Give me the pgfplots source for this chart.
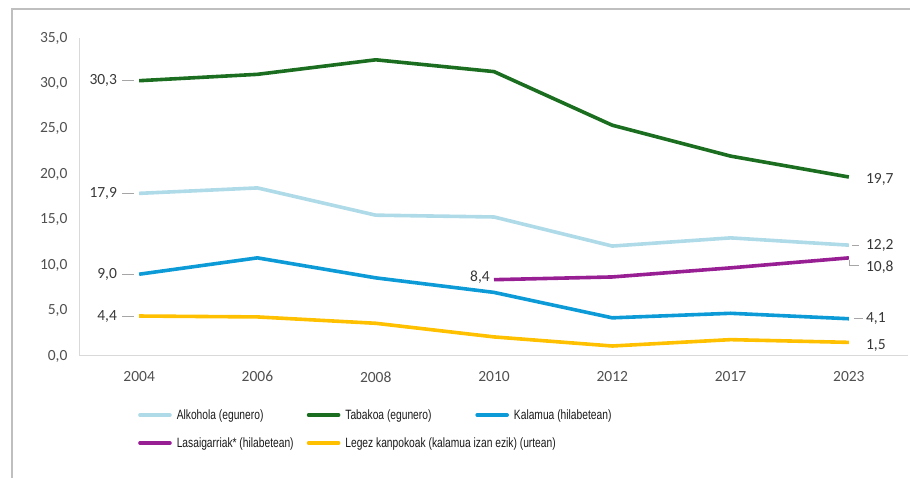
\documentclass[border=0pt]{standalone}
\usepackage{fontspec}
\setmainfont{Carlito}
\newfontfamily\legfont[FakeStretch=0.76]{Liberation Sans}
\usepackage{pgfplots}
\pgfplotsset{compat=1.18}
\definecolor{alk}{RGB}{175,218,232}
\definecolor{tab}{RGB}{27,110,32}
\definecolor{kal}{RGB}{13,155,215}
\definecolor{las}{RGB}{152,30,148}
\definecolor{leg}{RGB}{255,192,0}
\definecolor{tickgray}{RGB}{80,80,80}
\definecolor{lblgray}{RGB}{56,56,56}
\definecolor{legtext}{RGB}{25,25,25}
\begin{document}
\begin{tikzpicture}[x=1pt,y=1pt]
\path[use as bounding box] (0,0) rectangle (910,478);
\draw[black!25, line width=1.5pt] (12,0) -- (12,469) -- (910,469);
\begin{axis}[
  at={(80pt,122pt)}, anchor=south west, scale only axis,
  width=828pt, height=318pt,
  xmin=-0.5, xmax=6.5, ymin=0, ymax=35,
  axis x line*=bottom, axis y line*=left,
  axis line style={black!15, line width=1pt, -},
  major tick length=0pt,
  xtick={0,...,6}, xticklabels={2004,2006,2008,2010,2012,2017,2023},
  ytick={0,5,...,35},
  /pgf/number format/.cd, fixed, fixed zerofill, precision=1, use comma, assume math mode=true,
  /pgfplots/.cd,
  ticklabel style={font=\fontsize{15.5}{18}\selectfont, color=tickgray},
  xticklabel style={yshift=-12pt},
  yticklabel style={xshift=-9pt},
  clip=false,
  legend columns=3,
  legend style={at={(axis description cs:0.0700,-0.1698)}, anchor=north west,
    draw=none, fill=none, inner sep=0pt,
    nodes={inner sep=0pt, text height=9.5pt, text depth=3pt},
    cells={anchor=base west}, row sep=15.5pt,
    /tikz/every odd column/.style={column sep=5pt},
    font=\legfont\fontsize{13.5}{15}\selectfont, text=legtext},
  legend image code/.code={\draw[#1, line cap=round] (0pt,4.7pt) -- (30pt,4.7pt); \path (0pt,0pt);},
  every axis plot/.append style={line width=3.6pt, line join=round, no markers},
]
\addplot[alk] coordinates {(0,17.9) (1,18.5) (2,15.5) (3,15.3) (4,12.1) (5,13.0) (6,12.2)};
\addlegendentry{\makebox[130pt][l]{Alkohola (egunero)}}
\addplot[tab] coordinates {(0,30.3) (1,31.0) (2,32.6) (3,31.3) (4,25.4) (5,22.0) (6,19.7)};
\addlegendentry{\makebox[130pt][l]{Tabakoa (egunero)}}
\addplot[kal] coordinates {(0,9.0) (1,10.8) (2,8.6) (3,7.0) (4,4.2) (5,4.7) (6,4.1)};
\addlegendentry{Kalamua (hilabetean)}
\addplot[las] coordinates {(3,8.4) (4,8.7) (5,9.7) (6,10.8)};
\addlegendentry{\makebox[130pt][l]{Lasaigarriak* (hilabetean)}}
\addplot[leg] coordinates {(0,4.4) (1,4.3) (2,3.6) (3,2.1) (4,1.1) (5,1.8) (6,1.5)};
\addlegendentry{\makebox[130pt][l]{Legez kanpokoak (kalamua izan ezik) (urtean)}}
% data labels
\begin{scope}[every node/.style={font=\fontsize{15.5}{18}\selectfont, text=lblgray, inner sep=0pt}]
\node[anchor=east, xshift=-22pt] at (axis cs:0,30.3) {30,3};
\node[anchor=east, xshift=-22pt] at (axis cs:0,17.9) {17,9};
\node[anchor=east, xshift=-22pt] at (axis cs:0,9.0) {9,0};
\node[anchor=east, xshift=-22pt] at (axis cs:0,4.4) {4,4};
\node[anchor=east, xshift=-4pt, yshift=2.5pt] at (axis cs:3,8.4) {8,4};
\node[anchor=west, xshift=17pt, yshift=-2pt] at (axis cs:6,19.7) {19,7};
\node[anchor=west, xshift=17pt] at (axis cs:6,12.2) {12,2};
\node[anchor=west, xshift=17pt, yshift=-9pt] at (axis cs:6,10.8) {10,8};
\node[anchor=west, xshift=17pt] at (axis cs:6,4.1) {4,1};
\node[anchor=west, xshift=17pt, yshift=-3pt] at (axis cs:6,1.5) {1,5};
\end{scope}
\begin{scope}[black!35, line width=1pt]
\draw ([xshift=-17pt]axis cs:0,30.3) -- ([xshift=-5pt]axis cs:0,30.3);
\draw ([xshift=-17pt]axis cs:0,17.9) -- ([xshift=-5pt]axis cs:0,17.9);
\draw ([xshift=-17pt]axis cs:0,9.0) -- ([xshift=-5pt]axis cs:0,9.0);
\draw ([xshift=-17pt]axis cs:0,4.4) -- ([xshift=-5pt]axis cs:0,4.4);
\draw ([xshift=3pt]axis cs:6,12.2) -- ([xshift=10pt]axis cs:6,12.2);
\draw ([xshift=1pt,yshift=-2pt]axis cs:6,10.8) -- ([xshift=1pt,yshift=-8pt]axis cs:6,10.8) -- ([xshift=10pt,yshift=-8pt]axis cs:6,10.8);
\draw ([xshift=5pt]axis cs:6,4.1) -- ([xshift=14pt]axis cs:6,4.1);
\end{scope}
\end{axis}
\end{tikzpicture}
\end{document}
